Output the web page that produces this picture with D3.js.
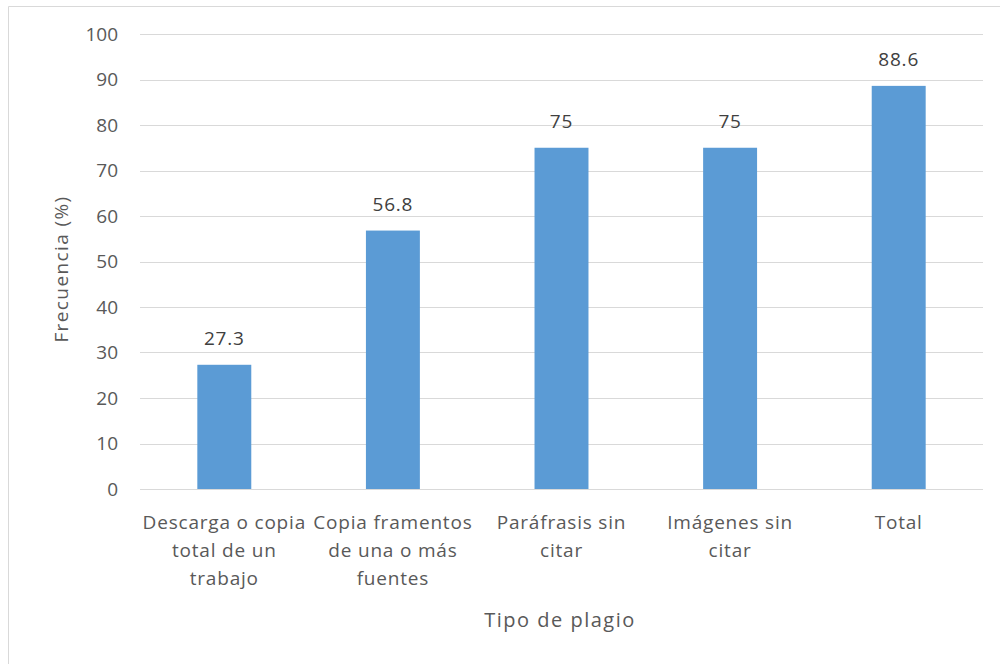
<!DOCTYPE html>
<html>
<head>
<meta charset="utf-8">
<script src="https://cdn.jsdelivr.net/npm/d3@7"></script>
<style>
  body { margin: 0; background: #fff; }
  text { font-family: "Open Sans", "Noto Sans", sans-serif; }
</style>
</head>
<body>
<svg id="svg"></svg>
<script>
const categories = [
    ["Descarga o copia", "total de un", "trabajo"],
    ["Copia framentos", "de una o más", "fuentes"],
    ["Paráfrasis sin", "citar"],
    ["Imágenes sin", "citar"],
    ["Total"],
];
const values = [27.3, 56.8, 75, 75, 88.6];
const yTicks = [0, 10, 20, 30, 40, 50, 60, 70, 80, 90, 100];

const width = 1000, height = 664;
const margin = { top: 34, right: 17, bottom: 175, left: 140 };

const svg = d3.select('#svg')
    .attr('width', width)
    .attr('height', height);

// chart frame (only left + top edges visible in the crop)
svg.append('path')
    .attr('d', `M8.5,${height}V6.5H${width}`)
    .attr('fill', 'none')
    .attr('stroke', '#d9d9d9')
    .attr('stroke-width', 1);

const x = d3.scaleBand()
    .domain(d3.range(categories.length))
    .range([margin.left, width - margin.right])
    .paddingInner(0.68)
    .paddingOuter(0.34);

const y = d3.scaleLinear()
    .domain([0, 100])
    .range([height - margin.bottom, margin.top]);

// gridlines
svg.append('g')
    .selectAll('line')
    .data(yTicks)
    .join('line')
        .attr('x1', margin.left)
        .attr('x2', width - margin.right)
        .attr('y1', d => Math.round(y(d)) + 0.5)
        .attr('y2', d => Math.round(y(d)) + 0.5)
        .attr('stroke', '#d9d9d9')
        .attr('stroke-width', 1);

// y tick labels
svg.append('g')
    .attr('text-anchor', 'end')
    .attr('font-size', 19)
    .attr('fill', '#595959')
    .selectAll('text')
    .data(yTicks)
    .join('text')
        .attr('x', 118)
        .attr('y', d => y(d))
        .attr('dy', '0.35em')
        .text(d => d);

// bars
svg.append('g')
    .selectAll('rect')
    .data(values)
    .join('rect')
        .attr('x', (d, i) => x(i))
        .attr('width', x.bandwidth())
        .attr('y', d => y(d))
        .attr('height', d => y(0) - y(d))
        .attr('fill', '#5b9bd5');

// data labels
svg.append('g')
    .attr('text-anchor', 'middle')
    .attr('font-size', 19)
    .attr('letter-spacing', 0.8)
    .attr('fill', '#404040')
    .selectAll('text')
    .data(values)
    .join('text')
        .attr('x', (d, i) => x(i) + x.bandwidth() / 2)
        .attr('y', d => y(d) - 20)
        .text(d => d);

// category labels
const cat = svg.append('g')
    .attr('text-anchor', 'middle')
    .attr('font-size', 19)
    .attr('letter-spacing', 0.8)
    .attr('fill', '#595959')
    .selectAll('text')
    .data(categories)
    .join('text')
        .attr('x', (d, i) => x(i) + x.bandwidth() / 2)
        .attr('y', 529);

cat.selectAll('tspan')
    .data(d => d)
    .join('tspan')
        .attr('x', function () { return this.parentNode.getAttribute('x'); })
        .attr('dy', (d, i) => i ? 28 : 0)
        .text(d => d);

// axis titles
svg.append('text')
    .attr('x', 560)
    .attr('y', 627)
    .attr('text-anchor', 'middle')
    .attr('font-size', 20)
    .attr('letter-spacing', 1.5)
    .attr('fill', '#595959')
    .text('Tipo de plagio');

svg.append('text')
    .attr('transform', `translate(68,269) rotate(-90)`)
    .attr('text-anchor', 'middle')
    .attr('font-size', 19)
    .attr('fill', '#595959')
    .attr('letter-spacing', 1.4)
    .text('Frecuencia (%)');
</script>
</body>
</html>
